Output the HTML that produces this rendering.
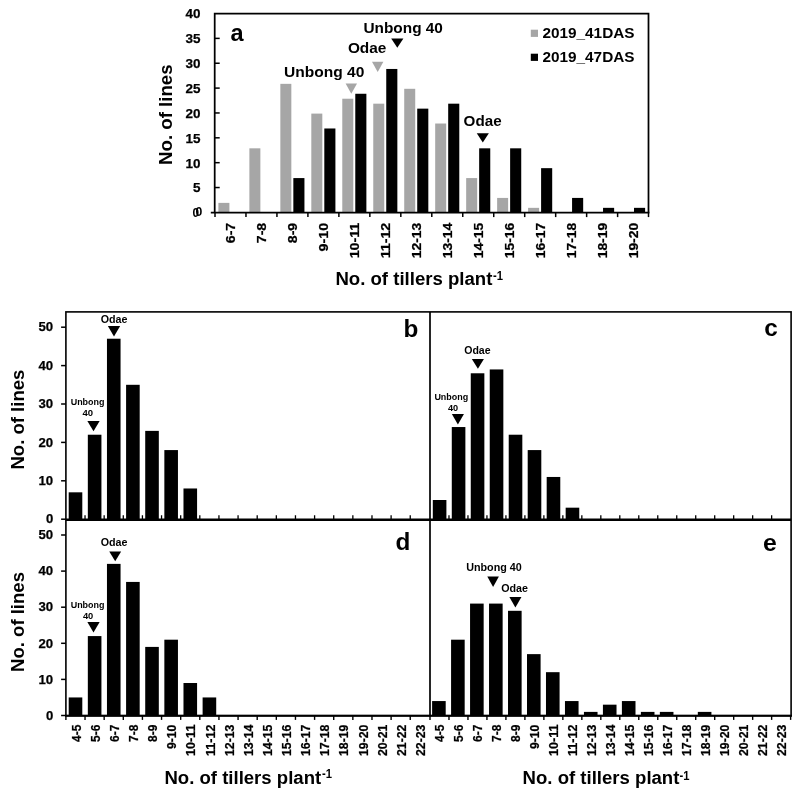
<!DOCTYPE html>
<html lang="en">
<head>
<meta charset="utf-8">
<title>Tiller number distribution</title>
<style>
html,body{margin:0;padding:0;background:#fff;}
svg{display:block;will-change:transform;}
svg text{font-family:"Liberation Sans", Arial, Helvetica, sans-serif;font-weight:bold;}
</style>
</head>
<body>
<svg width="808" height="800" viewBox="0 0 808 800">
<rect x="0" y="0" width="808" height="800" fill="#fff"/>
<rect x="218.40" y="202.88" width="11.00" height="9.92" fill="#a6a6a6"/>
<rect x="249.37" y="148.32" width="11.00" height="64.48" fill="#a6a6a6"/>
<rect x="280.34" y="83.84" width="11.00" height="128.96" fill="#a6a6a6"/>
<rect x="293.34" y="178.08" width="11.10" height="34.72" fill="#000"/>
<rect x="311.31" y="113.60" width="11.00" height="99.20" fill="#a6a6a6"/>
<rect x="324.31" y="128.48" width="11.10" height="84.32" fill="#000"/>
<rect x="342.28" y="98.72" width="11.00" height="114.08" fill="#a6a6a6"/>
<rect x="355.28" y="93.76" width="11.10" height="119.04" fill="#000"/>
<rect x="373.25" y="103.68" width="11.00" height="109.12" fill="#a6a6a6"/>
<rect x="386.25" y="68.96" width="11.10" height="143.84" fill="#000"/>
<rect x="404.22" y="88.80" width="11.00" height="124.00" fill="#a6a6a6"/>
<rect x="417.22" y="108.64" width="11.10" height="104.16" fill="#000"/>
<rect x="435.19" y="123.52" width="11.00" height="89.28" fill="#a6a6a6"/>
<rect x="448.19" y="103.68" width="11.10" height="109.12" fill="#000"/>
<rect x="466.16" y="178.08" width="11.00" height="34.72" fill="#a6a6a6"/>
<rect x="479.16" y="148.32" width="11.10" height="64.48" fill="#000"/>
<rect x="497.13" y="197.92" width="11.00" height="14.88" fill="#a6a6a6"/>
<rect x="510.13" y="148.32" width="11.10" height="64.48" fill="#000"/>
<rect x="528.10" y="207.84" width="11.00" height="4.96" fill="#a6a6a6"/>
<rect x="541.10" y="168.16" width="11.10" height="44.64" fill="#000"/>
<rect x="572.07" y="197.92" width="11.10" height="14.88" fill="#000"/>
<rect x="603.04" y="207.84" width="11.10" height="4.96" fill="#000"/>
<rect x="634.01" y="207.84" width="11.10" height="4.96" fill="#000"/>
<path d="M214.7,212.5 L214.7,13.5 L648.5,13.5 L648.5,212.5" fill="none" stroke="#000" stroke-width="1.75"/>
<line x1="210.80" y1="212.50" x2="649.40" y2="212.50" stroke="#000" stroke-width="1.75"/>
<text x="195.90" y="217.10" font-size="13.2" text-anchor="middle" fill="#000" textLength="6.60" lengthAdjust="spacingAndGlyphs" >0</text>
<text x="198.90" y="215.60" font-size="13.2" text-anchor="middle" fill="#000" textLength="6.80" lengthAdjust="spacingAndGlyphs" >0</text>
<line x1="214.70" y1="187.54" x2="219.70" y2="187.54" stroke="#000" stroke-width="1.5"/>
<text x="200.60" y="192.44" font-size="13.4" text-anchor="end" fill="#000" textLength="7.50" lengthAdjust="spacingAndGlyphs" stroke="#000" stroke-width="0.25">5</text>
<line x1="214.70" y1="162.68" x2="219.70" y2="162.68" stroke="#000" stroke-width="1.5"/>
<text x="200.60" y="167.58" font-size="13.4" text-anchor="end" fill="#000" textLength="15.00" lengthAdjust="spacingAndGlyphs" stroke="#000" stroke-width="0.25">10</text>
<line x1="214.70" y1="137.82" x2="219.70" y2="137.82" stroke="#000" stroke-width="1.5"/>
<text x="200.60" y="142.72" font-size="13.4" text-anchor="end" fill="#000" textLength="15.00" lengthAdjust="spacingAndGlyphs" stroke="#000" stroke-width="0.25">15</text>
<line x1="214.70" y1="112.96" x2="219.70" y2="112.96" stroke="#000" stroke-width="1.5"/>
<text x="200.60" y="117.86" font-size="13.4" text-anchor="end" fill="#000" textLength="15.00" lengthAdjust="spacingAndGlyphs" stroke="#000" stroke-width="0.25">20</text>
<line x1="214.70" y1="88.10" x2="219.70" y2="88.10" stroke="#000" stroke-width="1.5"/>
<text x="200.60" y="93.00" font-size="13.4" text-anchor="end" fill="#000" textLength="15.00" lengthAdjust="spacingAndGlyphs" stroke="#000" stroke-width="0.25">25</text>
<line x1="214.70" y1="63.24" x2="219.70" y2="63.24" stroke="#000" stroke-width="1.5"/>
<text x="200.60" y="68.14" font-size="13.4" text-anchor="end" fill="#000" textLength="15.00" lengthAdjust="spacingAndGlyphs" stroke="#000" stroke-width="0.25">30</text>
<line x1="214.70" y1="38.38" x2="219.70" y2="38.38" stroke="#000" stroke-width="1.5"/>
<text x="200.60" y="43.28" font-size="13.4" text-anchor="end" fill="#000" textLength="15.00" lengthAdjust="spacingAndGlyphs" stroke="#000" stroke-width="0.25">35</text>
<text x="200.60" y="18.42" font-size="13.4" text-anchor="end" fill="#000" textLength="15.00" lengthAdjust="spacingAndGlyphs" stroke="#000" stroke-width="0.25">40</text>
<line x1="215.00" y1="212.50" x2="215.00" y2="217.10" stroke="#000" stroke-width="1.5"/>
<line x1="245.97" y1="212.50" x2="245.97" y2="217.10" stroke="#000" stroke-width="1.5"/>
<line x1="276.94" y1="212.50" x2="276.94" y2="217.10" stroke="#000" stroke-width="1.5"/>
<line x1="307.91" y1="212.50" x2="307.91" y2="217.10" stroke="#000" stroke-width="1.5"/>
<line x1="338.88" y1="212.50" x2="338.88" y2="217.10" stroke="#000" stroke-width="1.5"/>
<line x1="369.85" y1="212.50" x2="369.85" y2="217.10" stroke="#000" stroke-width="1.5"/>
<line x1="400.82" y1="212.50" x2="400.82" y2="217.10" stroke="#000" stroke-width="1.5"/>
<line x1="431.79" y1="212.50" x2="431.79" y2="217.10" stroke="#000" stroke-width="1.5"/>
<line x1="462.76" y1="212.50" x2="462.76" y2="217.10" stroke="#000" stroke-width="1.5"/>
<line x1="493.73" y1="212.50" x2="493.73" y2="217.10" stroke="#000" stroke-width="1.5"/>
<line x1="524.70" y1="212.50" x2="524.70" y2="217.10" stroke="#000" stroke-width="1.5"/>
<line x1="555.67" y1="212.50" x2="555.67" y2="217.10" stroke="#000" stroke-width="1.5"/>
<line x1="586.64" y1="212.50" x2="586.64" y2="217.10" stroke="#000" stroke-width="1.5"/>
<line x1="617.61" y1="212.50" x2="617.61" y2="217.10" stroke="#000" stroke-width="1.5"/>
<line x1="648.50" y1="212.50" x2="648.50" y2="217.10" stroke="#000" stroke-width="1.5"/>
<text x="235.04" y="222.80" font-size="13" text-anchor="end" fill="#000" textLength="20.40" lengthAdjust="spacingAndGlyphs" transform="rotate(-90 235.04 222.80)" stroke="#000" stroke-width="0.25">6-7</text>
<text x="266.00" y="222.80" font-size="13" text-anchor="end" fill="#000" textLength="20.40" lengthAdjust="spacingAndGlyphs" transform="rotate(-90 266.00 222.80)" stroke="#000" stroke-width="0.25">7-8</text>
<text x="296.97" y="222.80" font-size="13" text-anchor="end" fill="#000" textLength="20.40" lengthAdjust="spacingAndGlyphs" transform="rotate(-90 296.97 222.80)" stroke="#000" stroke-width="0.25">8-9</text>
<text x="327.94" y="222.80" font-size="13" text-anchor="end" fill="#000" textLength="28.60" lengthAdjust="spacingAndGlyphs" transform="rotate(-90 327.94 222.80)" stroke="#000" stroke-width="0.25">9-10</text>
<text x="358.91" y="222.80" font-size="13" text-anchor="end" fill="#000" textLength="35.50" lengthAdjust="spacingAndGlyphs" transform="rotate(-90 358.91 222.80)" stroke="#000" stroke-width="0.25">10-11</text>
<text x="389.88" y="222.80" font-size="13" text-anchor="end" fill="#000" textLength="35.50" lengthAdjust="spacingAndGlyphs" transform="rotate(-90 389.88 222.80)" stroke="#000" stroke-width="0.25">11-12</text>
<text x="420.85" y="222.80" font-size="13" text-anchor="end" fill="#000" textLength="35.50" lengthAdjust="spacingAndGlyphs" transform="rotate(-90 420.85 222.80)" stroke="#000" stroke-width="0.25">12-13</text>
<text x="451.82" y="222.80" font-size="13" text-anchor="end" fill="#000" textLength="35.50" lengthAdjust="spacingAndGlyphs" transform="rotate(-90 451.82 222.80)" stroke="#000" stroke-width="0.25">13-14</text>
<text x="482.79" y="222.80" font-size="13" text-anchor="end" fill="#000" textLength="35.50" lengthAdjust="spacingAndGlyphs" transform="rotate(-90 482.79 222.80)" stroke="#000" stroke-width="0.25">14-15</text>
<text x="513.76" y="222.80" font-size="13" text-anchor="end" fill="#000" textLength="35.50" lengthAdjust="spacingAndGlyphs" transform="rotate(-90 513.76 222.80)" stroke="#000" stroke-width="0.25">15-16</text>
<text x="544.73" y="222.80" font-size="13" text-anchor="end" fill="#000" textLength="35.50" lengthAdjust="spacingAndGlyphs" transform="rotate(-90 544.73 222.80)" stroke="#000" stroke-width="0.25">16-17</text>
<text x="575.70" y="222.80" font-size="13" text-anchor="end" fill="#000" textLength="35.50" lengthAdjust="spacingAndGlyphs" transform="rotate(-90 575.70 222.80)" stroke="#000" stroke-width="0.25">17-18</text>
<text x="606.67" y="222.80" font-size="13" text-anchor="end" fill="#000" textLength="35.50" lengthAdjust="spacingAndGlyphs" transform="rotate(-90 606.67 222.80)" stroke="#000" stroke-width="0.25">18-19</text>
<text x="637.64" y="222.80" font-size="13" text-anchor="end" fill="#000" textLength="35.50" lengthAdjust="spacingAndGlyphs" transform="rotate(-90 637.64 222.80)" stroke="#000" stroke-width="0.25">19-20</text>
<text x="172.30" y="114.70" font-size="18.6" text-anchor="middle" fill="#000" textLength="100.50" lengthAdjust="spacingAndGlyphs" transform="rotate(-90 172.30 114.70)" >No. of lines</text>
<text x="335.4" y="284.7" font-size="18"><tspan textLength="157.0" lengthAdjust="spacingAndGlyphs">No. of tillers plant</tspan><tspan dx="0.6" dy="-4.4" font-size="12" textLength="10" lengthAdjust="spacingAndGlyphs">-1</tspan></text>
<text x="230.50" y="40.80" font-size="23.5" text-anchor="start" fill="#000" >a</text>
<text x="284.10" y="76.70" font-size="15" text-anchor="start" fill="#000" textLength="80.30" lengthAdjust="spacingAndGlyphs" >Unbong 40</text>
<polygon points="345.60,83.60 357.00,83.60 351.30,93.70" fill="#a6a6a6"/>
<text x="347.90" y="53.20" font-size="15" text-anchor="start" fill="#000" textLength="38.50" lengthAdjust="spacingAndGlyphs" >Odae</text>
<polygon points="372.00,61.80 383.40,61.80 377.70,71.90" fill="#a6a6a6"/>
<text x="363.50" y="33.20" font-size="15" text-anchor="start" fill="#000" textLength="79.40" lengthAdjust="spacingAndGlyphs" >Unbong 40</text>
<polygon points="391.20,38.40 403.40,38.40 397.30,47.80" fill="#000"/>
<text x="463.60" y="126.00" font-size="15" text-anchor="start" fill="#000" textLength="38.00" lengthAdjust="spacingAndGlyphs" >Odae</text>
<polygon points="476.75,133.20 488.85,133.20 482.80,142.40" fill="#000"/>
<rect x="530.80" y="29.70" width="7.20" height="7.20" fill="#a6a6a6"/>
<rect x="530.80" y="53.70" width="7.20" height="7.20" fill="#000"/>
<text x="542.40" y="37.50" font-size="15.5" text-anchor="start" fill="#000" textLength="92.20" lengthAdjust="spacingAndGlyphs" >2019_41DAS</text>
<text x="542.40" y="61.70" font-size="15.5" text-anchor="start" fill="#000" textLength="92.20" lengthAdjust="spacingAndGlyphs" >2019_47DAS</text>
<rect x="65.9" y="311.9" width="725.2" height="403.80000000000007" fill="none" stroke="#000" stroke-width="1.6"/>
<line x1="430.00" y1="311.90" x2="430.00" y2="715.70" stroke="#000" stroke-width="1.7"/>
<line x1="65.90" y1="519.65" x2="791.10" y2="519.65" stroke="#000" stroke-width="2.5"/>
<line x1="65.05" y1="715.70" x2="791.95" y2="715.70" stroke="#000" stroke-width="1.9"/>
<rect x="68.70" y="492.32" width="13.60" height="26.88" fill="#000"/>
<rect x="87.83" y="434.72" width="13.60" height="84.48" fill="#000"/>
<rect x="106.96" y="338.72" width="13.60" height="180.48" fill="#000"/>
<rect x="126.09" y="384.80" width="13.60" height="134.40" fill="#000"/>
<rect x="145.22" y="430.88" width="13.60" height="88.32" fill="#000"/>
<rect x="164.35" y="450.08" width="13.60" height="69.12" fill="#000"/>
<rect x="183.48" y="488.48" width="13.60" height="30.72" fill="#000"/>
<rect x="432.80" y="500.00" width="13.60" height="19.20" fill="#000"/>
<rect x="451.78" y="427.04" width="13.60" height="92.16" fill="#000"/>
<rect x="470.76" y="373.28" width="13.60" height="145.92" fill="#000"/>
<rect x="489.74" y="369.44" width="13.60" height="149.76" fill="#000"/>
<rect x="508.72" y="434.72" width="13.60" height="84.48" fill="#000"/>
<rect x="527.70" y="450.08" width="13.60" height="69.12" fill="#000"/>
<rect x="546.68" y="476.96" width="13.60" height="42.24" fill="#000"/>
<rect x="565.66" y="507.68" width="13.60" height="11.52" fill="#000"/>
<rect x="68.70" y="697.45" width="13.60" height="18.05" fill="#000"/>
<rect x="87.83" y="636.08" width="13.60" height="79.42" fill="#000"/>
<rect x="106.96" y="563.88" width="13.60" height="151.62" fill="#000"/>
<rect x="126.09" y="581.93" width="13.60" height="133.57" fill="#000"/>
<rect x="145.22" y="646.91" width="13.60" height="68.59" fill="#000"/>
<rect x="164.35" y="639.69" width="13.60" height="75.81" fill="#000"/>
<rect x="183.48" y="683.01" width="13.60" height="32.49" fill="#000"/>
<rect x="202.61" y="697.45" width="13.60" height="18.05" fill="#000"/>
<rect x="432.10" y="701.06" width="13.60" height="14.44" fill="#000"/>
<rect x="451.08" y="639.69" width="13.60" height="75.81" fill="#000"/>
<rect x="470.06" y="603.59" width="13.60" height="111.91" fill="#000"/>
<rect x="489.04" y="603.59" width="13.60" height="111.91" fill="#000"/>
<rect x="508.02" y="610.81" width="13.60" height="104.69" fill="#000"/>
<rect x="527.00" y="654.13" width="13.60" height="61.37" fill="#000"/>
<rect x="545.98" y="672.18" width="13.60" height="43.32" fill="#000"/>
<rect x="564.96" y="701.06" width="13.60" height="14.44" fill="#000"/>
<rect x="583.94" y="711.89" width="13.60" height="3.61" fill="#000"/>
<rect x="602.92" y="704.67" width="13.60" height="10.83" fill="#000"/>
<rect x="621.90" y="701.06" width="13.60" height="14.44" fill="#000"/>
<rect x="640.88" y="711.89" width="13.60" height="3.61" fill="#000"/>
<rect x="659.86" y="711.89" width="13.60" height="3.61" fill="#000"/>
<rect x="697.82" y="711.89" width="13.60" height="3.61" fill="#000"/>
<line x1="85.03" y1="519.65" x2="85.03" y2="515.25" stroke="#000" stroke-width="1.3"/>
<line x1="448.98" y1="519.65" x2="448.98" y2="515.25" stroke="#000" stroke-width="1.3"/>
<line x1="104.16" y1="519.65" x2="104.16" y2="515.25" stroke="#000" stroke-width="1.3"/>
<line x1="467.96" y1="519.65" x2="467.96" y2="515.25" stroke="#000" stroke-width="1.3"/>
<line x1="123.29" y1="519.65" x2="123.29" y2="515.25" stroke="#000" stroke-width="1.3"/>
<line x1="486.94" y1="519.65" x2="486.94" y2="515.25" stroke="#000" stroke-width="1.3"/>
<line x1="142.42" y1="519.65" x2="142.42" y2="515.25" stroke="#000" stroke-width="1.3"/>
<line x1="505.92" y1="519.65" x2="505.92" y2="515.25" stroke="#000" stroke-width="1.3"/>
<line x1="161.55" y1="519.65" x2="161.55" y2="515.25" stroke="#000" stroke-width="1.3"/>
<line x1="524.90" y1="519.65" x2="524.90" y2="515.25" stroke="#000" stroke-width="1.3"/>
<line x1="180.68" y1="519.65" x2="180.68" y2="515.25" stroke="#000" stroke-width="1.3"/>
<line x1="543.88" y1="519.65" x2="543.88" y2="515.25" stroke="#000" stroke-width="1.3"/>
<line x1="199.81" y1="519.65" x2="199.81" y2="515.25" stroke="#000" stroke-width="1.3"/>
<line x1="562.86" y1="519.65" x2="562.86" y2="515.25" stroke="#000" stroke-width="1.3"/>
<line x1="218.94" y1="519.65" x2="218.94" y2="515.25" stroke="#000" stroke-width="1.3"/>
<line x1="581.84" y1="519.65" x2="581.84" y2="515.25" stroke="#000" stroke-width="1.3"/>
<line x1="238.07" y1="519.65" x2="238.07" y2="515.25" stroke="#000" stroke-width="1.3"/>
<line x1="600.82" y1="519.65" x2="600.82" y2="515.25" stroke="#000" stroke-width="1.3"/>
<line x1="257.20" y1="519.65" x2="257.20" y2="515.25" stroke="#000" stroke-width="1.3"/>
<line x1="619.80" y1="519.65" x2="619.80" y2="515.25" stroke="#000" stroke-width="1.3"/>
<line x1="276.33" y1="519.65" x2="276.33" y2="515.25" stroke="#000" stroke-width="1.3"/>
<line x1="638.78" y1="519.65" x2="638.78" y2="515.25" stroke="#000" stroke-width="1.3"/>
<line x1="295.46" y1="519.65" x2="295.46" y2="515.25" stroke="#000" stroke-width="1.3"/>
<line x1="657.76" y1="519.65" x2="657.76" y2="515.25" stroke="#000" stroke-width="1.3"/>
<line x1="314.59" y1="519.65" x2="314.59" y2="515.25" stroke="#000" stroke-width="1.3"/>
<line x1="676.74" y1="519.65" x2="676.74" y2="515.25" stroke="#000" stroke-width="1.3"/>
<line x1="333.72" y1="519.65" x2="333.72" y2="515.25" stroke="#000" stroke-width="1.3"/>
<line x1="695.72" y1="519.65" x2="695.72" y2="515.25" stroke="#000" stroke-width="1.3"/>
<line x1="352.85" y1="519.65" x2="352.85" y2="515.25" stroke="#000" stroke-width="1.3"/>
<line x1="714.70" y1="519.65" x2="714.70" y2="515.25" stroke="#000" stroke-width="1.3"/>
<line x1="371.98" y1="519.65" x2="371.98" y2="515.25" stroke="#000" stroke-width="1.3"/>
<line x1="733.68" y1="519.65" x2="733.68" y2="515.25" stroke="#000" stroke-width="1.3"/>
<line x1="391.11" y1="519.65" x2="391.11" y2="515.25" stroke="#000" stroke-width="1.3"/>
<line x1="752.66" y1="519.65" x2="752.66" y2="515.25" stroke="#000" stroke-width="1.3"/>
<line x1="410.24" y1="519.65" x2="410.24" y2="515.25" stroke="#000" stroke-width="1.3"/>
<line x1="771.64" y1="519.65" x2="771.64" y2="515.25" stroke="#000" stroke-width="1.3"/>
<line x1="65.90" y1="715.70" x2="65.90" y2="719.90" stroke="#000" stroke-width="1.4"/>
<line x1="430.00" y1="715.70" x2="430.00" y2="719.90" stroke="#000" stroke-width="1.4"/>
<line x1="85.03" y1="715.70" x2="85.03" y2="719.90" stroke="#000" stroke-width="1.4"/>
<line x1="448.98" y1="715.70" x2="448.98" y2="719.90" stroke="#000" stroke-width="1.4"/>
<line x1="104.16" y1="715.70" x2="104.16" y2="719.90" stroke="#000" stroke-width="1.4"/>
<line x1="467.96" y1="715.70" x2="467.96" y2="719.90" stroke="#000" stroke-width="1.4"/>
<line x1="123.29" y1="715.70" x2="123.29" y2="719.90" stroke="#000" stroke-width="1.4"/>
<line x1="486.94" y1="715.70" x2="486.94" y2="719.90" stroke="#000" stroke-width="1.4"/>
<line x1="142.42" y1="715.70" x2="142.42" y2="719.90" stroke="#000" stroke-width="1.4"/>
<line x1="505.92" y1="715.70" x2="505.92" y2="719.90" stroke="#000" stroke-width="1.4"/>
<line x1="161.55" y1="715.70" x2="161.55" y2="719.90" stroke="#000" stroke-width="1.4"/>
<line x1="524.90" y1="715.70" x2="524.90" y2="719.90" stroke="#000" stroke-width="1.4"/>
<line x1="180.68" y1="715.70" x2="180.68" y2="719.90" stroke="#000" stroke-width="1.4"/>
<line x1="543.88" y1="715.70" x2="543.88" y2="719.90" stroke="#000" stroke-width="1.4"/>
<line x1="199.81" y1="715.70" x2="199.81" y2="719.90" stroke="#000" stroke-width="1.4"/>
<line x1="562.86" y1="715.70" x2="562.86" y2="719.90" stroke="#000" stroke-width="1.4"/>
<line x1="218.94" y1="715.70" x2="218.94" y2="719.90" stroke="#000" stroke-width="1.4"/>
<line x1="581.84" y1="715.70" x2="581.84" y2="719.90" stroke="#000" stroke-width="1.4"/>
<line x1="238.07" y1="715.70" x2="238.07" y2="719.90" stroke="#000" stroke-width="1.4"/>
<line x1="600.82" y1="715.70" x2="600.82" y2="719.90" stroke="#000" stroke-width="1.4"/>
<line x1="257.20" y1="715.70" x2="257.20" y2="719.90" stroke="#000" stroke-width="1.4"/>
<line x1="619.80" y1="715.70" x2="619.80" y2="719.90" stroke="#000" stroke-width="1.4"/>
<line x1="276.33" y1="715.70" x2="276.33" y2="719.90" stroke="#000" stroke-width="1.4"/>
<line x1="638.78" y1="715.70" x2="638.78" y2="719.90" stroke="#000" stroke-width="1.4"/>
<line x1="295.46" y1="715.70" x2="295.46" y2="719.90" stroke="#000" stroke-width="1.4"/>
<line x1="657.76" y1="715.70" x2="657.76" y2="719.90" stroke="#000" stroke-width="1.4"/>
<line x1="314.59" y1="715.70" x2="314.59" y2="719.90" stroke="#000" stroke-width="1.4"/>
<line x1="676.74" y1="715.70" x2="676.74" y2="719.90" stroke="#000" stroke-width="1.4"/>
<line x1="333.72" y1="715.70" x2="333.72" y2="719.90" stroke="#000" stroke-width="1.4"/>
<line x1="695.72" y1="715.70" x2="695.72" y2="719.90" stroke="#000" stroke-width="1.4"/>
<line x1="352.85" y1="715.70" x2="352.85" y2="719.90" stroke="#000" stroke-width="1.4"/>
<line x1="714.70" y1="715.70" x2="714.70" y2="719.90" stroke="#000" stroke-width="1.4"/>
<line x1="371.98" y1="715.70" x2="371.98" y2="719.90" stroke="#000" stroke-width="1.4"/>
<line x1="733.68" y1="715.70" x2="733.68" y2="719.90" stroke="#000" stroke-width="1.4"/>
<line x1="391.11" y1="715.70" x2="391.11" y2="719.90" stroke="#000" stroke-width="1.4"/>
<line x1="752.66" y1="715.70" x2="752.66" y2="719.90" stroke="#000" stroke-width="1.4"/>
<line x1="410.24" y1="715.70" x2="410.24" y2="719.90" stroke="#000" stroke-width="1.4"/>
<line x1="771.64" y1="715.70" x2="771.64" y2="719.90" stroke="#000" stroke-width="1.4"/>
<line x1="790.62" y1="715.70" x2="790.62" y2="719.90" stroke="#000" stroke-width="1.4"/>
<line x1="65.90" y1="519.20" x2="61.10" y2="519.20" stroke="#000" stroke-width="1.5"/>
<text x="53.20" y="523.40" font-size="13.5" text-anchor="end" fill="#000" textLength="7.30" lengthAdjust="spacingAndGlyphs" stroke="#000" stroke-width="0.25">0</text>
<line x1="65.90" y1="715.50" x2="61.10" y2="715.50" stroke="#000" stroke-width="1.5"/>
<text x="53.20" y="719.70" font-size="13.5" text-anchor="end" fill="#000" textLength="7.30" lengthAdjust="spacingAndGlyphs" stroke="#000" stroke-width="0.25">0</text>
<line x1="65.90" y1="480.80" x2="61.10" y2="480.80" stroke="#000" stroke-width="1.5"/>
<text x="53.20" y="485.00" font-size="13.5" text-anchor="end" fill="#000" textLength="14.70" lengthAdjust="spacingAndGlyphs" stroke="#000" stroke-width="0.25">10</text>
<line x1="65.90" y1="679.40" x2="61.10" y2="679.40" stroke="#000" stroke-width="1.5"/>
<text x="53.20" y="683.60" font-size="13.5" text-anchor="end" fill="#000" textLength="14.70" lengthAdjust="spacingAndGlyphs" stroke="#000" stroke-width="0.25">10</text>
<line x1="65.90" y1="442.40" x2="61.10" y2="442.40" stroke="#000" stroke-width="1.5"/>
<text x="53.20" y="446.60" font-size="13.5" text-anchor="end" fill="#000" textLength="14.70" lengthAdjust="spacingAndGlyphs" stroke="#000" stroke-width="0.25">20</text>
<line x1="65.90" y1="643.30" x2="61.10" y2="643.30" stroke="#000" stroke-width="1.5"/>
<text x="53.20" y="647.50" font-size="13.5" text-anchor="end" fill="#000" textLength="14.70" lengthAdjust="spacingAndGlyphs" stroke="#000" stroke-width="0.25">20</text>
<line x1="65.90" y1="404.00" x2="61.10" y2="404.00" stroke="#000" stroke-width="1.5"/>
<text x="53.20" y="408.20" font-size="13.5" text-anchor="end" fill="#000" textLength="14.70" lengthAdjust="spacingAndGlyphs" stroke="#000" stroke-width="0.25">30</text>
<line x1="65.90" y1="607.20" x2="61.10" y2="607.20" stroke="#000" stroke-width="1.5"/>
<text x="53.20" y="611.40" font-size="13.5" text-anchor="end" fill="#000" textLength="14.70" lengthAdjust="spacingAndGlyphs" stroke="#000" stroke-width="0.25">30</text>
<line x1="65.90" y1="365.60" x2="61.10" y2="365.60" stroke="#000" stroke-width="1.5"/>
<text x="53.20" y="369.80" font-size="13.5" text-anchor="end" fill="#000" textLength="14.70" lengthAdjust="spacingAndGlyphs" stroke="#000" stroke-width="0.25">40</text>
<line x1="65.90" y1="571.10" x2="61.10" y2="571.10" stroke="#000" stroke-width="1.5"/>
<text x="53.20" y="575.30" font-size="13.5" text-anchor="end" fill="#000" textLength="14.70" lengthAdjust="spacingAndGlyphs" stroke="#000" stroke-width="0.25">40</text>
<line x1="65.90" y1="327.20" x2="61.10" y2="327.20" stroke="#000" stroke-width="1.5"/>
<text x="53.20" y="331.40" font-size="13.5" text-anchor="end" fill="#000" textLength="14.70" lengthAdjust="spacingAndGlyphs" stroke="#000" stroke-width="0.25">50</text>
<line x1="65.90" y1="535.00" x2="61.10" y2="535.00" stroke="#000" stroke-width="1.5"/>
<text x="53.20" y="539.20" font-size="13.5" text-anchor="end" fill="#000" textLength="14.70" lengthAdjust="spacingAndGlyphs" stroke="#000" stroke-width="0.25">50</text>
<text x="80.66" y="724.60" font-size="12.8" text-anchor="end" fill="#000" textLength="17.30" lengthAdjust="spacingAndGlyphs" transform="rotate(-90 80.66 724.60)" stroke="#000" stroke-width="0.25">4-5</text>
<text x="444.49" y="724.60" font-size="12.8" text-anchor="end" fill="#000" textLength="17.30" lengthAdjust="spacingAndGlyphs" transform="rotate(-90 444.49 724.60)" stroke="#000" stroke-width="0.25">4-5</text>
<text x="99.79" y="724.60" font-size="12.8" text-anchor="end" fill="#000" textLength="17.30" lengthAdjust="spacingAndGlyphs" transform="rotate(-90 99.79 724.60)" stroke="#000" stroke-width="0.25">5-6</text>
<text x="463.47" y="724.60" font-size="12.8" text-anchor="end" fill="#000" textLength="17.30" lengthAdjust="spacingAndGlyphs" transform="rotate(-90 463.47 724.60)" stroke="#000" stroke-width="0.25">5-6</text>
<text x="118.92" y="724.60" font-size="12.8" text-anchor="end" fill="#000" textLength="17.30" lengthAdjust="spacingAndGlyphs" transform="rotate(-90 118.92 724.60)" stroke="#000" stroke-width="0.25">6-7</text>
<text x="482.45" y="724.60" font-size="12.8" text-anchor="end" fill="#000" textLength="17.30" lengthAdjust="spacingAndGlyphs" transform="rotate(-90 482.45 724.60)" stroke="#000" stroke-width="0.25">6-7</text>
<text x="138.06" y="724.60" font-size="12.8" text-anchor="end" fill="#000" textLength="17.30" lengthAdjust="spacingAndGlyphs" transform="rotate(-90 138.06 724.60)" stroke="#000" stroke-width="0.25">7-8</text>
<text x="501.43" y="724.60" font-size="12.8" text-anchor="end" fill="#000" textLength="17.30" lengthAdjust="spacingAndGlyphs" transform="rotate(-90 501.43 724.60)" stroke="#000" stroke-width="0.25">7-8</text>
<text x="157.19" y="724.60" font-size="12.8" text-anchor="end" fill="#000" textLength="17.30" lengthAdjust="spacingAndGlyphs" transform="rotate(-90 157.19 724.60)" stroke="#000" stroke-width="0.25">8-9</text>
<text x="520.41" y="724.60" font-size="12.8" text-anchor="end" fill="#000" textLength="17.30" lengthAdjust="spacingAndGlyphs" transform="rotate(-90 520.41 724.60)" stroke="#000" stroke-width="0.25">8-9</text>
<text x="176.31" y="724.60" font-size="12.8" text-anchor="end" fill="#000" textLength="24.40" lengthAdjust="spacingAndGlyphs" transform="rotate(-90 176.31 724.60)" stroke="#000" stroke-width="0.25">9-10</text>
<text x="539.39" y="724.60" font-size="12.8" text-anchor="end" fill="#000" textLength="24.40" lengthAdjust="spacingAndGlyphs" transform="rotate(-90 539.39 724.60)" stroke="#000" stroke-width="0.25">9-10</text>
<text x="195.44" y="724.60" font-size="12.8" text-anchor="end" fill="#000" textLength="31.40" lengthAdjust="spacingAndGlyphs" transform="rotate(-90 195.44 724.60)" stroke="#000" stroke-width="0.25">10-11</text>
<text x="558.37" y="724.60" font-size="12.8" text-anchor="end" fill="#000" textLength="31.40" lengthAdjust="spacingAndGlyphs" transform="rotate(-90 558.37 724.60)" stroke="#000" stroke-width="0.25">10-11</text>
<text x="214.57" y="724.60" font-size="12.8" text-anchor="end" fill="#000" textLength="31.40" lengthAdjust="spacingAndGlyphs" transform="rotate(-90 214.57 724.60)" stroke="#000" stroke-width="0.25">11-12</text>
<text x="577.35" y="724.60" font-size="12.8" text-anchor="end" fill="#000" textLength="31.40" lengthAdjust="spacingAndGlyphs" transform="rotate(-90 577.35 724.60)" stroke="#000" stroke-width="0.25">11-12</text>
<text x="233.70" y="724.60" font-size="12.8" text-anchor="end" fill="#000" textLength="31.40" lengthAdjust="spacingAndGlyphs" transform="rotate(-90 233.70 724.60)" stroke="#000" stroke-width="0.25">12-13</text>
<text x="596.33" y="724.60" font-size="12.8" text-anchor="end" fill="#000" textLength="31.40" lengthAdjust="spacingAndGlyphs" transform="rotate(-90 596.33 724.60)" stroke="#000" stroke-width="0.25">12-13</text>
<text x="252.83" y="724.60" font-size="12.8" text-anchor="end" fill="#000" textLength="31.40" lengthAdjust="spacingAndGlyphs" transform="rotate(-90 252.83 724.60)" stroke="#000" stroke-width="0.25">13-14</text>
<text x="615.31" y="724.60" font-size="12.8" text-anchor="end" fill="#000" textLength="31.40" lengthAdjust="spacingAndGlyphs" transform="rotate(-90 615.31 724.60)" stroke="#000" stroke-width="0.25">13-14</text>
<text x="271.97" y="724.60" font-size="12.8" text-anchor="end" fill="#000" textLength="31.40" lengthAdjust="spacingAndGlyphs" transform="rotate(-90 271.97 724.60)" stroke="#000" stroke-width="0.25">14-15</text>
<text x="634.29" y="724.60" font-size="12.8" text-anchor="end" fill="#000" textLength="31.40" lengthAdjust="spacingAndGlyphs" transform="rotate(-90 634.29 724.60)" stroke="#000" stroke-width="0.25">14-15</text>
<text x="291.10" y="724.60" font-size="12.8" text-anchor="end" fill="#000" textLength="31.40" lengthAdjust="spacingAndGlyphs" transform="rotate(-90 291.10 724.60)" stroke="#000" stroke-width="0.25">15-16</text>
<text x="653.27" y="724.60" font-size="12.8" text-anchor="end" fill="#000" textLength="31.40" lengthAdjust="spacingAndGlyphs" transform="rotate(-90 653.27 724.60)" stroke="#000" stroke-width="0.25">15-16</text>
<text x="310.23" y="724.60" font-size="12.8" text-anchor="end" fill="#000" textLength="31.40" lengthAdjust="spacingAndGlyphs" transform="rotate(-90 310.23 724.60)" stroke="#000" stroke-width="0.25">16-17</text>
<text x="672.25" y="724.60" font-size="12.8" text-anchor="end" fill="#000" textLength="31.40" lengthAdjust="spacingAndGlyphs" transform="rotate(-90 672.25 724.60)" stroke="#000" stroke-width="0.25">16-17</text>
<text x="329.36" y="724.60" font-size="12.8" text-anchor="end" fill="#000" textLength="31.40" lengthAdjust="spacingAndGlyphs" transform="rotate(-90 329.36 724.60)" stroke="#000" stroke-width="0.25">17-18</text>
<text x="691.23" y="724.60" font-size="12.8" text-anchor="end" fill="#000" textLength="31.40" lengthAdjust="spacingAndGlyphs" transform="rotate(-90 691.23 724.60)" stroke="#000" stroke-width="0.25">17-18</text>
<text x="348.49" y="724.60" font-size="12.8" text-anchor="end" fill="#000" textLength="31.40" lengthAdjust="spacingAndGlyphs" transform="rotate(-90 348.49 724.60)" stroke="#000" stroke-width="0.25">18-19</text>
<text x="710.21" y="724.60" font-size="12.8" text-anchor="end" fill="#000" textLength="31.40" lengthAdjust="spacingAndGlyphs" transform="rotate(-90 710.21 724.60)" stroke="#000" stroke-width="0.25">18-19</text>
<text x="367.62" y="724.60" font-size="12.8" text-anchor="end" fill="#000" textLength="31.40" lengthAdjust="spacingAndGlyphs" transform="rotate(-90 367.62 724.60)" stroke="#000" stroke-width="0.25">19-20</text>
<text x="729.19" y="724.60" font-size="12.8" text-anchor="end" fill="#000" textLength="31.40" lengthAdjust="spacingAndGlyphs" transform="rotate(-90 729.19 724.60)" stroke="#000" stroke-width="0.25">19-20</text>
<text x="386.75" y="724.60" font-size="12.8" text-anchor="end" fill="#000" textLength="31.40" lengthAdjust="spacingAndGlyphs" transform="rotate(-90 386.75 724.60)" stroke="#000" stroke-width="0.25">20-21</text>
<text x="748.17" y="724.60" font-size="12.8" text-anchor="end" fill="#000" textLength="31.40" lengthAdjust="spacingAndGlyphs" transform="rotate(-90 748.17 724.60)" stroke="#000" stroke-width="0.25">20-21</text>
<text x="405.88" y="724.60" font-size="12.8" text-anchor="end" fill="#000" textLength="31.40" lengthAdjust="spacingAndGlyphs" transform="rotate(-90 405.88 724.60)" stroke="#000" stroke-width="0.25">21-22</text>
<text x="767.15" y="724.60" font-size="12.8" text-anchor="end" fill="#000" textLength="31.40" lengthAdjust="spacingAndGlyphs" transform="rotate(-90 767.15 724.60)" stroke="#000" stroke-width="0.25">21-22</text>
<text x="425.00" y="724.60" font-size="12.8" text-anchor="end" fill="#000" textLength="31.40" lengthAdjust="spacingAndGlyphs" transform="rotate(-90 425.00 724.60)" stroke="#000" stroke-width="0.25">22-23</text>
<text x="786.13" y="724.60" font-size="12.8" text-anchor="end" fill="#000" textLength="31.40" lengthAdjust="spacingAndGlyphs" transform="rotate(-90 786.13 724.60)" stroke="#000" stroke-width="0.25">22-23</text>
<text x="24.30" y="419.60" font-size="18.4" text-anchor="middle" fill="#000" textLength="100.00" lengthAdjust="spacingAndGlyphs" transform="rotate(-90 24.30 419.60)" >No. of lines</text>
<text x="24.30" y="622.00" font-size="18.4" text-anchor="middle" fill="#000" textLength="100.00" lengthAdjust="spacingAndGlyphs" transform="rotate(-90 24.30 622.00)" >No. of lines</text>
<text x="164.4" y="783.6" font-size="18"><tspan textLength="156.8" lengthAdjust="spacingAndGlyphs">No. of tillers plant</tspan><tspan dx="0.8" dy="-5.2" font-size="12" textLength="10" lengthAdjust="spacingAndGlyphs">-1</tspan></text>
<text x="522.6" y="784.3" font-size="18"><tspan textLength="156.8" lengthAdjust="spacingAndGlyphs">No. of tillers plant</tspan><tspan dx="0.2" dy="-4.2" font-size="12" textLength="10" lengthAdjust="spacingAndGlyphs">-1</tspan></text>
<text x="403.60" y="337.10" font-size="24.3" text-anchor="start" fill="#000" >b</text>
<text x="764.20" y="335.50" font-size="24.3" text-anchor="start" fill="#000" >c</text>
<text x="395.50" y="549.60" font-size="24.3" text-anchor="start" fill="#000" >d</text>
<text x="763.00" y="550.50" font-size="24.8" text-anchor="start" fill="#000" >e</text>
<text x="100.70" y="322.60" font-size="10.5" text-anchor="start" fill="#000" textLength="26.80" lengthAdjust="spacingAndGlyphs" >Odae</text>
<polygon points="107.85,325.90 120.15,325.90 114.00,336.40" fill="#000"/>
<text x="70.70" y="405.10" font-size="9" text-anchor="start" fill="#000" textLength="33.80" lengthAdjust="spacingAndGlyphs" >Unbong</text>
<text x="82.40" y="415.60" font-size="9" text-anchor="start" fill="#000" textLength="10.60" lengthAdjust="spacingAndGlyphs" >40</text>
<polygon points="87.35,420.90 99.65,420.90 93.50,431.20" fill="#000"/>
<text x="464.20" y="353.80" font-size="10.5" text-anchor="start" fill="#000" textLength="26.40" lengthAdjust="spacingAndGlyphs" >Odae</text>
<polygon points="471.85,359.10 483.95,359.10 477.90,368.80" fill="#000"/>
<text x="434.40" y="399.60" font-size="9" text-anchor="start" fill="#000" textLength="33.80" lengthAdjust="spacingAndGlyphs" >Unbong</text>
<text x="447.90" y="411.40" font-size="9" text-anchor="start" fill="#000" textLength="10.20" lengthAdjust="spacingAndGlyphs" >40</text>
<polygon points="451.85,414.10 463.95,414.10 457.90,424.40" fill="#000"/>
<text x="100.70" y="545.60" font-size="10.5" text-anchor="start" fill="#000" textLength="26.80" lengthAdjust="spacingAndGlyphs" >Odae</text>
<polygon points="109.25,551.40 121.15,551.40 115.20,561.20" fill="#000"/>
<text x="70.70" y="607.60" font-size="9" text-anchor="start" fill="#000" textLength="33.80" lengthAdjust="spacingAndGlyphs" >Unbong</text>
<text x="82.90" y="618.80" font-size="9" text-anchor="start" fill="#000" textLength="10.40" lengthAdjust="spacingAndGlyphs" >40</text>
<polygon points="87.35,622.10 99.65,622.10 93.50,632.40" fill="#000"/>
<text x="466.20" y="570.60" font-size="10.6" text-anchor="start" fill="#000" textLength="55.60" lengthAdjust="spacingAndGlyphs" >Unbong 40</text>
<polygon points="487.30,576.60 498.90,576.60 493.10,586.90" fill="#000"/>
<text x="501.20" y="591.80" font-size="10.5" text-anchor="start" fill="#000" textLength="26.80" lengthAdjust="spacingAndGlyphs" >Odae</text>
<polygon points="509.35,597.10 521.45,597.10 515.40,607.40" fill="#000"/>
</svg>
</body>
</html>
